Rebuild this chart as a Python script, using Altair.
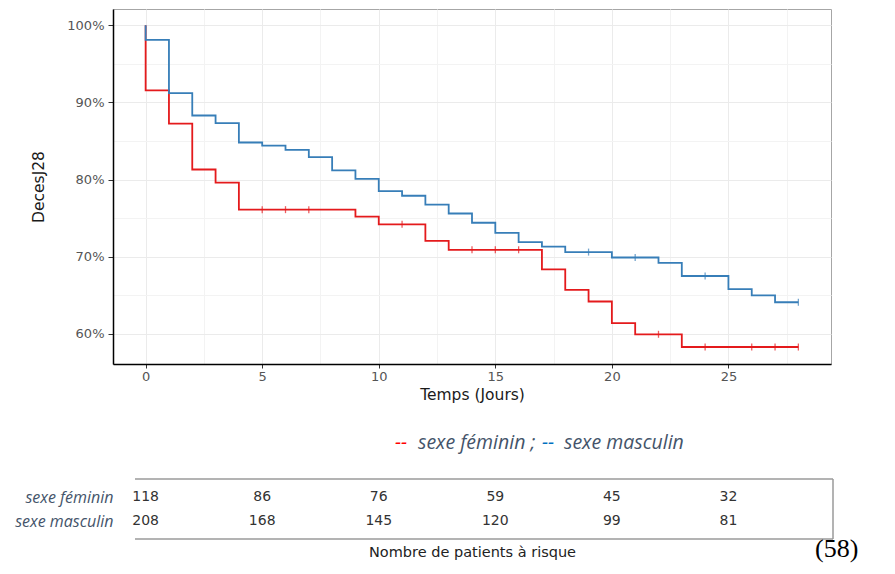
import altair as alt
import pandas as pd

# ---- data ----
groups = ["sexe féminin", "sexe masculin"]

time_f = [0, 0, 1, 2, 3, 4, 9, 10, 12, 13, 17, 18, 19, 20, 21, 23, 28]
surv_f = [1.0, 0.9155, 0.8725, 0.813, 0.796, 0.761, 0.752, 0.742, 0.7205, 0.709,
          0.6835, 0.657, 0.642, 0.614, 0.5995, 0.583, 0.583]

time_m = [0, 0, 1, 2, 3, 4, 5, 6, 7, 8, 9, 10, 11, 12, 13, 14, 15, 16, 17, 18,
          20, 22, 23, 25, 26, 27, 28]
surv_m = [1.0, 0.981, 0.912, 0.883, 0.873, 0.848, 0.844, 0.8385, 0.829, 0.812,
          0.801, 0.785, 0.779, 0.7675, 0.756, 0.744, 0.731, 0.719, 0.713, 0.706,
          0.699, 0.692, 0.675, 0.658, 0.650, 0.641, 0.641]

cens_f = [5, 6, 7, 11, 14, 15, 16, 22, 24, 26, 27, 28]
cens_m = [19, 21, 24, 28]

risk_times = [0, 5, 10, 15, 20, 25]
risk_f = [118, 86, 76, 59, 45, 32]
risk_m = [208, 168, 145, 120, 99, 81]

RED = "#E41A1C"
BLUE = "#377EB8"


def step_at(times, survs, t):
    v = survs[0]
    for tt, s in zip(times, survs):
        if tt <= t:
            v = s
    return v


def curve_df(times, survs):
    return pd.DataFrame({"t": times, "s": survs, "i": list(range(len(times)))})


def cens_df(times, survs, cens):
    return pd.DataFrame({"t": cens, "s": [step_at(times, survs, c) for c in cens]})


df_f = curve_df(time_f, surv_f)
df_m = curve_df(time_m, surv_m)
dc_f = cens_df(time_f, surv_f, cens_f)
dc_m = cens_df(time_m, surv_m, cens_m)

rows = []
for g, ns in zip(groups, [risk_f, risk_m]):
    for t, n in zip(risk_times, ns):
        rows.append({"t": t, "group": g, "n": n})
risk_df = pd.DataFrame(rows)

# ---- scales / axes ----
xscale = alt.Scale(domain=[-1.4, 29.4], nice=False, zero=False)
yscale = alt.Scale(domain=[0.561, 1.021], nice=False, zero=False)

minor_x = "datum.value % 5 != 0"
minor_y = "round(datum.value * 100) % 10 != 0"

x_axis = alt.Axis(
    values=[i * 2.5 for i in range(12)],
    labelExpr="datum.value % 5 == 0 ? format(datum.value, 'd') : ''",
    title="Temps (Jours)",
    titleFontSize=15.5, titleFontWeight="normal", titleColor="#1a1a1a",
    titlePadding=4,
    labelFontSize=13, labelColor="#555555", labelPadding=2,
    tickSize=4, tickColor="#333333",
    tickOpacity={"condition": {"test": minor_x, "value": 0}, "value": 1},
    gridColor={"condition": {"test": minor_x, "value": "#F3F3F3"}, "value": "#EBEBEB"},
    gridWidth=1,
    domainColor="#000000", domainWidth=1.5,
)
y_axis = alt.Axis(
    values=[0.6, 0.65, 0.7, 0.75, 0.8, 0.85, 0.9, 0.95, 1.0],
    labelExpr="round(datum.value * 100) % 10 == 0 ? format(datum.value, '.0%') : ''",
    title="DecesJ28",
    titleFontSize=15.5, titleFontWeight="normal", titleColor="#1a1a1a",
    titlePadding=20,
    labelFontSize=13, labelColor="#555555", labelPadding=4,
    tickSize=5, tickColor="#333333",
    tickOpacity={"condition": {"test": minor_y, "value": 0}, "value": 1},
    gridColor={"condition": {"test": minor_y, "value": "#F3F3F3"}, "value": "#EBEBEB"},
    gridWidth=1,
    domainColor="#000000", domainWidth=1.5,
)

X = alt.X("t:Q", scale=xscale, axis=x_axis)
Y = alt.Y("s:Q", scale=yscale, axis=y_axis)


def line(df, color):
    return alt.Chart(df).mark_line(interpolate="step-after", strokeWidth=1.8, color=color).encode(
        x=X, y=Y, order=alt.Order("i:Q")
    )


def ticks(df, color):
    return alt.Chart(df).mark_tick(orient="vertical", size=7, thickness=1.3, color=color).encode(
        x=X, y=Y
    )


top = alt.layer(
    line(df_f, RED), line(df_m, BLUE), ticks(dc_f, RED), ticks(dc_m, BLUE)
).properties(
    width=718, height=355,
    view=alt.ViewBackground(stroke="#A6A6A6", strokeWidth=1),
)

# ---- risk table ----
one = pd.DataFrame({"k": [0]})

xb = alt.X("t:Q", scale=xscale, axis=alt.Axis(
    title="Nombre de patients à risque", labels=False, ticks=False, domain=False, grid=False,
    titleFontSize=14.5, titleFontWeight="normal", titleColor="#222222", titlePadding=6,
))
yb = alt.Y("group:N", scale=alt.Scale(type="point", padding=0.75, domain=groups), axis=alt.Axis(
    title=None, ticks=False, domain=False, grid=False, labelPadding=0,
    labelFont="Open Sans", labelFontStyle="italic", labelFontSize=16, labelColor="#44546A",
))

numbers = alt.Chart(risk_df).mark_text(fontSize=14, color="#333333", baseline="middle").encode(
    x=xb, y=yb, text="n:Q"
)

box_col = "#9A9A9A"
box_top = alt.Chart(one).mark_rule(color=box_col, strokeWidth=1.5).encode(
    x=alt.value(22), x2=alt.value(720), y=alt.value(0))
box_bot = alt.Chart(one).mark_rule(color=box_col, strokeWidth=1.5).encode(
    x=alt.value(22), x2=alt.value(720), y=alt.value(60))
box_right = alt.Chart(one).mark_rule(color=box_col, strokeWidth=1.5).encode(
    x=alt.value(720), y=alt.value(0), y2=alt.value(60))


def note(text, x, y, color, size=19.5, font="Open Sans", style="italic", align="left"):
    return alt.Chart(one).mark_text(
        text=text, color=color, fontSize=size, font=font, fontStyle=style,
        align=align, baseline="middle",
    ).encode(x=alt.value(x), y=alt.value(y))


legend_parts = [
    note("--", 282, -36, "#FF0000"),
    note("sexe féminin ;", 305, -36, "#44546A"),
    note("--", 429, -36, "#0070C0"),
    note("sexe masculin", 451, -36, "#44546A"),
    note("(58)", 702, 70, "#000000", size=26, font="Liberation Serif", style="normal"),
]

bottom = alt.layer(box_top, box_bot, box_right, numbers, *legend_parts).properties(
    width=718, height=60,
    view=alt.ViewBackground(stroke="transparent"),
)

chart = alt.vconcat(top, bottom, spacing=115, bounds="flush").properties(
    padding={"left": 14, "top": 8, "right": 5, "bottom": 5},
    background="white",
).configure(font="DejaVu Sans")

chart.save("out.html", embed_options={"renderer": "svg", "actions": False})
